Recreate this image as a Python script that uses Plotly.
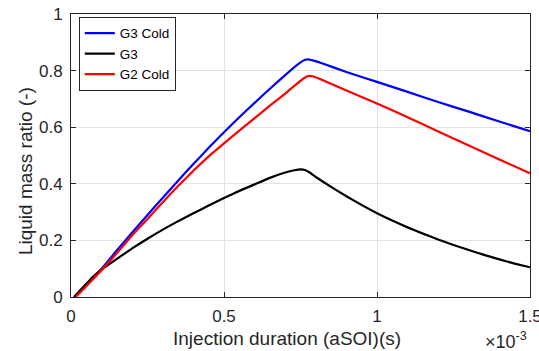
import plotly.graph_objects as go

# Injection duration in units of 1e-3 s, liquid mass ratio (-)
g3_cold_x = [0.01, 0.05, 0.10, 0.15, 0.20, 0.25, 0.30, 0.35, 0.40, 0.45, 0.50, 0.55, 0.60, 0.65,
             0.70, 0.74, 0.765, 0.775, 0.79, 0.82, 0.90, 1.00, 1.10, 1.20, 1.30, 1.40, 1.50]
g3_cold_y = [0.0, 0.042, 0.100, 0.165, 0.228, 0.290, 0.351, 0.411, 0.470, 0.527, 0.582, 0.635, 0.686, 0.736,
             0.784, 0.821, 0.838, 0.840, 0.836, 0.826, 0.795, 0.760, 0.725, 0.689, 0.655, 0.620, 0.586]

g3_x = [0.01, 0.04, 0.07, 0.10, 0.15, 0.20, 0.25, 0.30, 0.35, 0.40, 0.45, 0.50, 0.55, 0.60, 0.65, 0.70,
        0.73, 0.75, 0.765, 0.78, 0.80, 0.85, 0.90, 0.95, 1.00, 1.05, 1.10, 1.15, 1.20, 1.25, 1.30, 1.35, 1.40, 1.45, 1.50]
g3_y = [0.0, 0.035, 0.070, 0.097, 0.135, 0.172, 0.206, 0.238, 0.268, 0.296, 0.323, 0.350, 0.375, 0.398, 0.421, 0.440,
        0.448, 0.451, 0.449, 0.440, 0.424, 0.389, 0.356, 0.325, 0.296, 0.270, 0.246, 0.224, 0.203, 0.184, 0.166, 0.149, 0.133, 0.118, 0.105]

g2_cold_x = [0.015, 0.05, 0.10, 0.15, 0.20, 0.25, 0.30, 0.35, 0.40, 0.45, 0.50, 0.55, 0.60, 0.65,
             0.70, 0.74, 0.76, 0.775, 0.79, 0.81, 0.90, 1.00, 1.10, 1.20, 1.30, 1.40, 1.50]
g2_cold_y = [0.0, 0.038, 0.095, 0.155, 0.218, 0.276, 0.335, 0.392, 0.446, 0.497, 0.543, 0.588, 0.632, 0.676,
             0.719, 0.755, 0.772, 0.781, 0.780, 0.772, 0.730, 0.684, 0.635, 0.585, 0.535, 0.486, 0.437]

x_ticks = [0, 0.5, 1, 1.5]
x_tick_text = ["0", "0.5", "1", "1.5"]
y_ticks = [0, 0.2, 0.4, 0.6, 0.8, 1]
y_tick_text = ["0", "0.2", "0.4", "0.6", "0.8", "1"]

font_family = "Liberation Sans, Arial, Helvetica, sans-serif"
axis_color = "#262626"

fig = go.Figure()
for xs, ys, name, color in [
    (g3_cold_x, g3_cold_y, "G3 Cold", "#0000ff"),
    (g3_x, g3_y, "G3", "#000000"),
    (g2_cold_x, g2_cold_y, "G2 Cold", "#ff0000"),
]:
    fig.add_trace(go.Scatter(
        x=xs, y=ys, name=name, mode="lines",
        line=dict(color=color, width=2.2, shape="spline", smoothing=0.3),
    ))

axis_common = dict(
    showline=True, mirror="ticks", linecolor=axis_color, linewidth=1,
    ticks="inside", ticklen=5, tickcolor=axis_color, tickwidth=1,
    showgrid=True, gridcolor="#e3e3e3", gridwidth=1,
    zeroline=False, automargin=False, ticklabeloverflow="allow",
    ticklabelstandoff=4,
    tickfont=dict(family=font_family, size=17, color=axis_color),
)

fig.update_layout(
    width=539, height=351,
    margin=dict(l=71, r=9, t=14, b=54),
    paper_bgcolor="white", plot_bgcolor="white",
    font=dict(family=font_family, color=axis_color),
    xaxis=dict(range=[0, 1.5], tickvals=x_ticks, ticktext=x_tick_text, **axis_common),
    yaxis=dict(range=[0, 1], tickvals=y_ticks, ticktext=y_tick_text, **axis_common),
    legend=dict(
        x=0.017, y=0.99, xanchor="left", yanchor="top",
        bgcolor="white", bordercolor=axis_color, borderwidth=1,
        font=dict(family=font_family, size=13.5, color="#000000"),
        tracegroupgap=0, itemwidth=30,
    ),
    showlegend=True,
)

# Axis titles
fig.add_annotation(
    x=0.4706, y=0, xref="paper", yref="paper", xanchor="center", yanchor="middle",
    yshift=-41, text="Injection duration (aSOI)(s)", showarrow=False,
    font=dict(family=font_family, size=19, color=axis_color),
)
fig.add_annotation(
    x=0, y=0.445, xref="paper", yref="paper", xanchor="center", yanchor="middle",
    xshift=-46, textangle=-90, text="Liquid mass ratio (-)", showarrow=False,
    font=dict(family=font_family, size=19, color=axis_color),
)

# Exponent label for the x axis
fig.add_annotation(
    x=1.0, y=0, xref="paper", yref="paper", xanchor="right", yanchor="top",
    yshift=-30, xshift=-1,
    text="×10<sup>-3</sup>", showarrow=False,
    font=dict(family=font_family, size=18, color=axis_color),
)

fig.write_html("out.html")
